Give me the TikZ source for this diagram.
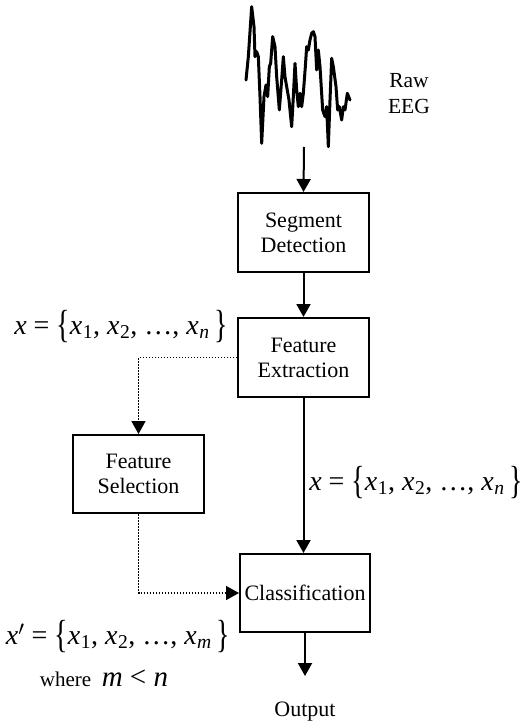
\documentclass[tikz,border=0pt]{standalone}
\usepackage{fontspec}
\usepackage{graphicx}
\setmainfont{Liberation Serif}
\usetikzlibrary{arrows.meta}
\newcommand\xv[1]{\textit{x}\kern0.5pt\textsubscript{#1}}
\newcommand\lbr{\raisebox{-0.13em}{\scalebox{1}[1.4]{\{}}}
\newcommand\rbr{\raisebox{-0.13em}{\scalebox{1}[1.4]{\}}}}
\newcommand\setlbl{\textit{x} = \lbr\xv{1}, \xv{2}, \ldots, \xv{\textit{n}}\,\rbr}
\tikzset{
  blk/.style={draw, line width=2pt, minimum width=131pt, minimum height=79pt, align=center, inner sep=0pt, font=\fontsize{22}{25}\selectfont},
  arr/.style={line width=2pt, -{Triangle[length=13pt,width=14pt]}},
  dot/.style={line width=1.5pt, dash pattern=on 1.5pt off 1.5pt, -{Triangle[length=13pt,width=14pt]}},
  mathlbl/.style={inner sep=0pt, font=\fontsize{28}{30}\selectfont},
  small/.style={inner sep=0pt, font=\fontsize{21.5}{25}\selectfont},
}
\begin{document}
\begin{tikzpicture}[x=1pt,y=-1pt]
\useasboundingbox (0,0) rectangle (524,722);
% waveform
\begin{scope}[shift={(230,0)}, x=1/3pt, y=-1/3pt]
\draw[line width=3pt, line join=round, line cap=round]
 (48,240)--(55,170)--(65,20)--(72,80)--(75,170)--(80,155)--(85,170)--(90,290)--(95,430)--(102,290)--(108,255)--(113,290)--(118,200)--(122,190)--(128,110)--(135,140)--(140,230)--(148,330)--(155,240)--(160,170)--(165,230)--(170,260)--(177,300)--(185,380)--(190,290)--(195,190)--(200,270)--(205,320)--(210,280)--(215,320)--(220,280)--(226,200)--(230,140)--(235,150)--(240,120)--(245,100)--(250,95)--(255,110)--(260,210)--(265,150)--(270,200)--(278,330)--(285,350)--(290,320)--(295,440)--(300,300)--(305,175)--(310,200)--(318,260)--(323,330)--(328,320)--(335,360)--(340,320)--(345,330)--(352,280)--(360,300);
\end{scope}
\node[small] (raw) at (409,81) {Raw};
\node[small] (eeg) at (409,106) {EEG};
\coordinate (src) at (304,147);
\node[blk] (sd) at (303.5,232.5) {Segment\\Detection};
\node[blk] (fe) at (303.5,357.5) {Feature\\Extraction};
\node[blk, minimum height=78pt] (fs) at (138.5,474) {Feature\\Selection};
\node[blk, minimum width=130pt, minimum height=78pt] (cl) at (305,593) {Classification};
\coordinate (out) at (305,676);
\node[inner sep=0pt, font=\fontsize{22}{25}\selectfont] (outtxt) at (305,712) {Output};
\draw[arr] (src) -- (sd.north);
\draw[arr] (sd.south) -- (fe.north);
\draw[arr] (fe.south) -- (fe.south |- cl.north);
\draw[arr] (cl.south) -- (out);
\draw[dot] (fe.west) -| (fs.north);
\draw[dot] (fs.south) |- (cl.west);
\node[mathlbl] (l1) at (121,327) {\setlbl};
\node[mathlbl] (l2) at (416,483) {\setlbl};
\node[mathlbl] (l3) at (118,637) {\textit{x}$'$ = \lbr\xv{1}, \xv{2}, \ldots, \xv{\textit{m}}\,\rbr};
\node[inner sep=0pt] (l4) at (104,678) {\fontsize{21}{24}\selectfont where \ \fontsize{29}{30}\selectfont\textit{m} < \textit{n}};
\end{tikzpicture}
\end{document}
